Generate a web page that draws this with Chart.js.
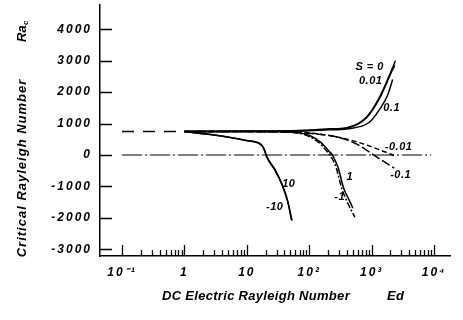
<!DOCTYPE html>
<html><head><meta charset="utf-8">
<script src="https://cdn.jsdelivr.net/npm/chart.js@4/dist/chart.umd.min.js"></script>
<style>html,body{margin:0;padding:0;background:#fff;}</style>
</head><body>
<canvas id="c" width="463" height="320" style="width:463px;height:320px;display:block"></canvas>
<script>
// ---- tick labels / axes ----
const xTickValues = [0.1, 1, 10, 100, 1000, 10000];
const xTickLabels = ['10⁻¹', '1', '10', '10²', '10³', '10⁴'];
const yTickValues = [-3000, -2000, -1000, 0, 1000, 2000, 3000, 4000];
const yTickLabels = ['-3000', '-2000', '-1000', '0', '1000', '2000', '3000', '4000'];

// ---- series (Ed = DC electric Rayleigh number, Ra = critical Rayleigh number) ----
const edBase = [0.1, 0.75];           const raBase = [750, 750];
const edZero = [0.1, 9000];           const raZero = [0, 0];
const edS0   = [1, 10, 50, 100, 200, 400, 830, 1340, 2090, 2400];
const raS0   = [750, 755, 770, 790, 830, 870, 1210, 1845, 2700, 3000];
const edS001 = [1, 10, 50, 100, 200, 400, 830, 1340, 2090, 2350];
const raS001 = [750, 755, 768, 785, 820, 860, 1190, 1810, 2650, 2850];
const edS01  = [1, 10, 50, 100, 200, 400, 930, 1340, 1800, 2170];
const raS01  = [750, 752, 762, 775, 800, 830, 1050, 1450, 1900, 2400];
const edSm001 = [1, 10, 50, 240, 575, 1500, 2300];
const raSm001 = [750, 748, 740, 600, 420, 130, -20];
const edSm01 = [1, 10, 30, 100, 300, 600, 1200, 2300];
const raSm01 = [750, 745, 735, 690, 560, 330, -60, -420];
const edS1   = [1, 10, 30, 70, 150, 205, 235, 290, 355, 440, 500];
const raS1   = [750, 748, 740, 705, 420, 130, 0, -400, -1050, -1450, -1690];
const edSm1  = [1, 10, 30, 70, 140, 190, 215, 270, 330, 430, 540];
const raSm1  = [750, 748, 735, 690, 410, 130, 0, -400, -1050, -1600, -1980];
const edS10  = [1, 3, 6, 10, 17, 19, 21, 28, 36, 45, 52];
const raS10  = [745, 640, 545, 460, 330, 180, -60, -450, -890, -1450, -2070];
const edSm10 = [1, 3, 6, 10, 17, 19, 21, 28, 36, 45, 53];
const raSm10 = [745, 635, 540, 455, 325, 170, -80, -470, -910, -1470, -2090];

// ---- curve labels (text, Ed, Ra) ----
const labelText = ['S = 0', '0.01', '0.1', '-0.01', '-0.1', '1', '-1', '10', '-10'];
const labelEd   = [929, 964, 2090, 2700, 2910, 445, 308, 47, 28];
const labelRa   = [2800, 2355, 1495, 255, -636, -700, -1336, -923, -1655];

const FONT = '"Liberation Sans", Arial, sans-serif';
const pts = (xs, ys) => xs.map((x, i) => ({x: x, y: ys[i]}));
const ds = (xs, ys, dash, w) => ({
  data: pts(xs, ys), showLine: true, borderColor: '#000', borderWidth: w || 1.5,
  borderDash: dash || [], pointRadius: 0, fill: false,
  cubicInterpolationMode: 'monotone'
});

const datasets = [
  ds(edBase, raBase, [12, 9]),
  ds(edZero, raZero, [20, 3, 2, 3], 1.2),
  ds(edS0, raS0),
  ds(edS001, raS001),
  ds(edS01, raS01),
  ds(edSm001, raSm001, [5, 3]),
  ds(edSm01, raSm01, [9, 3]),
  ds(edS1, raS1),
  ds(edSm1, raSm1, [6, 2, 2, 2]),
  ds(edS10, raS10),
  ds(edSm10, raSm10)
];

const minorX = [];
[0.1, 1, 10, 100, 1000].forEach(d => { for (let k = 2; k <= 9; k++) minorX.push(d * k); });

const decor = {
  id: 'decor',
  beforeDraw(chart) { chart.ctx.letterSpacing = '2px'; },
  afterDraw(chart) {
    const ctx = chart.ctx, xs = chart.scales.x, ys = chart.scales.y;
    const a = chart.chartArea;
    ctx.save();
    ctx.letterSpacing = '0px';
    ctx.strokeStyle = '#000'; ctx.lineWidth = 1.3;
    ctx.beginPath();
    yTickValues.forEach(v => { const p = Math.round(ys.getPixelForValue(v)) + 0.5; ctx.moveTo(a.left, p); ctx.lineTo(a.left + 12, p); });
    xTickValues.forEach(v => { const p = Math.round(xs.getPixelForValue(v)) + 0.5; ctx.moveTo(p, a.bottom); ctx.lineTo(p, a.bottom - 11); });
    minorX.forEach(v => { const p = Math.round(xs.getPixelForValue(v)) + 0.5; ctx.moveTo(p, a.bottom); ctx.lineTo(p, a.bottom - 6); });
    ctx.stroke();

    ctx.fillStyle = '#000';
    ctx.textAlign = 'center'; ctx.textBaseline = 'middle';
    ctx.font = 'italic bold 11px ' + FONT;
    ctx.letterSpacing = '0.5px';
    labelText.forEach((t, i) => ctx.fillText(t, xs.getPixelForValue(labelEd[i]), ys.getPixelForValue(labelRa[i])));

    // x title
    ctx.font = 'italic bold 13px ' + FONT;
    ctx.letterSpacing = '0.3px';
    ctx.textAlign = 'left';
    ctx.fillText('DC Electric Rayleigh Number', 162, 296);
    ctx.fillText('Ed', 387, 296);

    // y title
    ctx.save();
    ctx.translate(22, 168); ctx.rotate(-Math.PI / 2);
    ctx.textAlign = 'center';
    ctx.letterSpacing = '1px';
    ctx.fillText('Critical Rayleigh Number', 0, 0);
    ctx.restore();
    ctx.save();
    ctx.translate(22, 33); ctx.rotate(-Math.PI / 2);
    ctx.textAlign = 'left';
    ctx.letterSpacing = '0px';
    ctx.font = 'italic bold 13px ' + FONT;
    ctx.fillText('Ra', -9, 0);
    ctx.font = 'italic bold 8px ' + FONT;
    ctx.fillText('c', 8, 4);
    ctx.restore();
    ctx.restore();
  }
};

new Chart(document.getElementById('c'), {
  type: 'scatter',
  data: { datasets: datasets },
  options: {
    responsive: false, animation: false, devicePixelRatio: 1,
    layout: { padding: { top: 5, right: 13, left: 0, bottom: 0 } },
    plugins: { legend: { display: false }, tooltip: { enabled: false } },
    elements: { line: { tension: 0.4 } },
    scales: {
      x: {
        type: 'logarithmic', min: 0.0444, max: 18000,
        afterBuildTicks: s => { s.ticks = xTickValues.map(v => ({ value: v })); },
        afterFit: s => { s.height = 64; s.paddingLeft = 0; s.paddingRight = 0; },
        ticks: {
          autoSkip: false, maxRotation: 0, padding: 9, color: '#000',
          font: { family: FONT, size: 12, style: 'italic', weight: 'bold' },
          callback: (v) => { const i = xTickValues.indexOf(v); return i >= 0 ? xTickLabels[i] : ''; }
        },
        grid: { display: false, drawTicks: false },
        border: { display: true, color: '#000', width: 1.5 }
      },
      y: {
        type: 'linear', min: -3213, max: 4773,
        afterBuildTicks: s => { s.ticks = yTickValues.map(v => ({ value: v })); },
        afterFit: s => { s.width = 100; s.paddingTop = 0; s.paddingBottom = 0; },
        ticks: {
          autoSkip: false, padding: 8, color: '#000',
          font: { family: FONT, size: 12, style: 'italic', weight: 'bold' },
          callback: (v) => { const i = yTickValues.indexOf(v); return i >= 0 ? yTickLabels[i] : ''; }
        },
        grid: { display: false, drawTicks: false },
        border: { display: true, color: '#000', width: 1.5 }
      }
    }
  },
  plugins: [decor]
});
</script>
</body></html>
